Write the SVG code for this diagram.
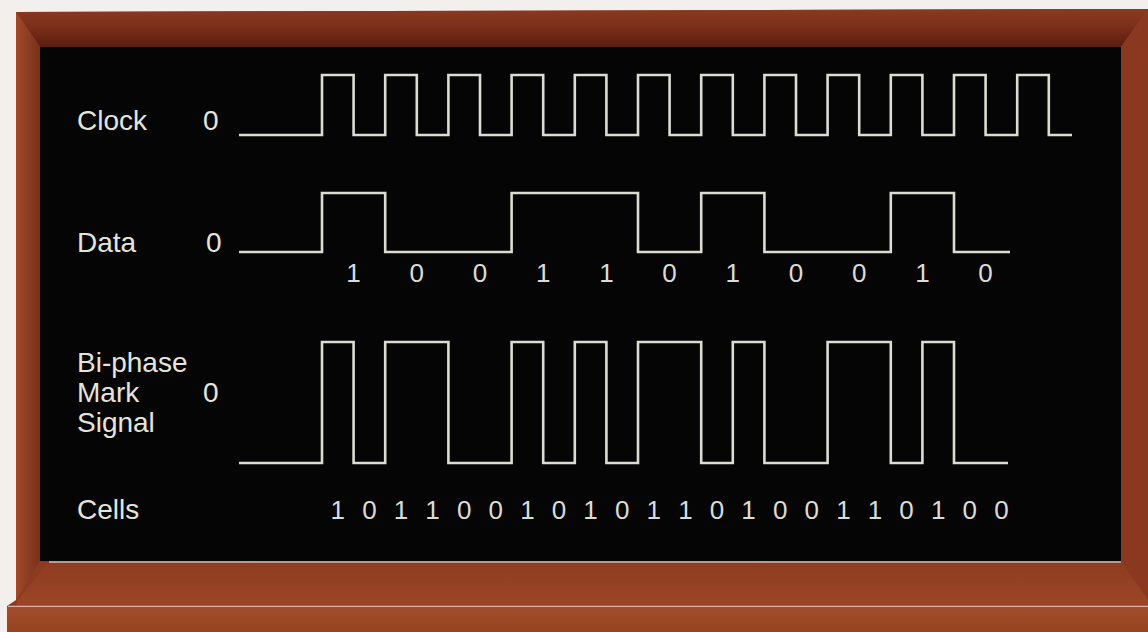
<svg xmlns="http://www.w3.org/2000/svg" width="1148" height="632" viewBox="0 0 1148 632">
<defs>
<linearGradient id="topWood" x1="0" y1="0" x2="0" y2="1">
<stop offset="0" stop-color="#8a3a22"/><stop offset="0.5" stop-color="#7a2e19"/><stop offset="1" stop-color="#5a1e10"/>
</linearGradient>
<linearGradient id="sideWood" x1="0" y1="0" x2="1" y2="0">
<stop offset="0" stop-color="#a04a2a"/><stop offset="1" stop-color="#7a3019"/>
</linearGradient>
<linearGradient id="ledge" x1="0" y1="0" x2="0" y2="1">
<stop offset="0" stop-color="#8e3c20"/><stop offset="1" stop-color="#9c4526"/>
</linearGradient>
<linearGradient id="front" x1="0" y1="0" x2="0" y2="1">
<stop offset="0" stop-color="#a24c2b"/><stop offset="1" stop-color="#96431f"/>
</linearGradient>
<style>
.wave{fill:none;stroke:#dddcd3;stroke-width:2.6;stroke-linejoin:miter}
.lbl{font-family:"Liberation Sans",Arial,sans-serif;font-size:28px;fill:#e6e4da}
.num{font-family:"Liberation Sans",Arial,sans-serif;font-size:26px;fill:#dcdcd6;text-anchor:middle}
</style>
</defs>
<g id="frame">
<rect x="0" y="0" width="1148" height="632" fill="#f3efec"/>
<polygon points="16,12 1148,9 1148,632 7,632 7,606 16,600" fill="#8c3b20"/>
<polygon points="16,12 1148,9 1121,47 40,47" fill="url(#topWood)"/>
<polygon points="16,12 40,47 40,561 16,600" fill="url(#sideWood)"/>
<polygon points="1148,9 1148,602 1121,561 1121,47" fill="#8a3820"/>
<rect x="40" y="47" width="1081" height="514" fill="#050505"/>
<polygon points="49,561 1121,561 1148,600 1148,606 16,606 18,600" fill="url(#ledge)"/>
<line x1="49" y1="562" x2="1121" y2="562" stroke="#c9b7b0" stroke-width="1.5"/>
<line x1="8" y1="606.5" x2="1148" y2="606.5" stroke="#d9b3a3" stroke-width="1.5"/>
<rect x="7" y="607" width="1141" height="25" fill="url(#front)"/>
</g>
<g id="labels">
<text class="lbl" x="77" y="130">Clock</text>
<text class="lbl" x="203" y="130">0</text>
<text class="lbl" x="77" y="252">Data</text>
<text class="lbl" x="206" y="252">0</text>
<text class="lbl" x="77" y="372">Bi-phase</text>
<text class="lbl" x="77" y="402">Mark</text>
<text class="lbl" x="203" y="402">0</text>
<text class="lbl" x="77" y="432">Signal</text>
<text class="lbl" x="77" y="519">Cells</text>
</g>
<g id="connectors">
<path id="clock" class="wave" d="M239,135 H322 V75 H353.6 V135 H385.2 V75 H416.8 V135 H448.4 V75 H480 V135 H511.6 V75 H543.2 V135 H574.8 V75 H606.4 V135 H638 V75 H669.6 V135 H701.2 V75 H732.8 V135 H764.4 V75 H796 V135 H827.6 V75 H859.2 V135 H890.8 V75 H922.4 V135 H954 V75 H985.6 V135 H1017.2 V75 H1048.8 V135 H1072"/>
<path id="data" class="wave" d="M239,252 H322 V193 H385.2 V252 H511.6 V193 H638 V252 H701.2 V193 H764.4 V252 H890.8 V193 H954 V252 H1010"/>
<path id="biphase" class="wave" d="M239,463 H322 V342 H353.6 V463 H385.2 V342 H448.4 V463 H511.6 V342 H543.2 V463 H574.8 V342 H606.4 V463 H638 V342 H701.2 V463 H732.8 V342 H764.4 V463 H827.6 V342 H890.8 V463 H922.4 V342 H954 V463 H1008"/>
</g>
<g id="dataBits">
<text class="num" x="353.6" y="282">1</text>
<text class="num" x="416.8" y="282">0</text>
<text class="num" x="480" y="282">0</text>
<text class="num" x="543.2" y="282">1</text>
<text class="num" x="606.4" y="282">1</text>
<text class="num" x="669.6" y="282">0</text>
<text class="num" x="732.8" y="282">1</text>
<text class="num" x="796" y="282">0</text>
<text class="num" x="859.2" y="282">0</text>
<text class="num" x="922.4" y="282">1</text>
<text class="num" x="985.6" y="282">0</text>
</g>
<g id="cells">
<text class="num" x="337.8" y="519">1</text>
<text class="num" x="369.4" y="519">0</text>
<text class="num" x="401" y="519">1</text>
<text class="num" x="432.6" y="519">1</text>
<text class="num" x="464.2" y="519">0</text>
<text class="num" x="495.8" y="519">0</text>
<text class="num" x="527.4" y="519">1</text>
<text class="num" x="559" y="519">0</text>
<text class="num" x="590.6" y="519">1</text>
<text class="num" x="622.2" y="519">0</text>
<text class="num" x="653.8" y="519">1</text>
<text class="num" x="685.4" y="519">1</text>
<text class="num" x="717" y="519">0</text>
<text class="num" x="748.6" y="519">1</text>
<text class="num" x="780.2" y="519">0</text>
<text class="num" x="811.8" y="519">0</text>
<text class="num" x="843.4" y="519">1</text>
<text class="num" x="875" y="519">1</text>
<text class="num" x="906.6" y="519">0</text>
<text class="num" x="938.2" y="519">1</text>
<text class="num" x="969.8" y="519">0</text>
<text class="num" x="1001.4" y="519">0</text>
</g>
</svg>
